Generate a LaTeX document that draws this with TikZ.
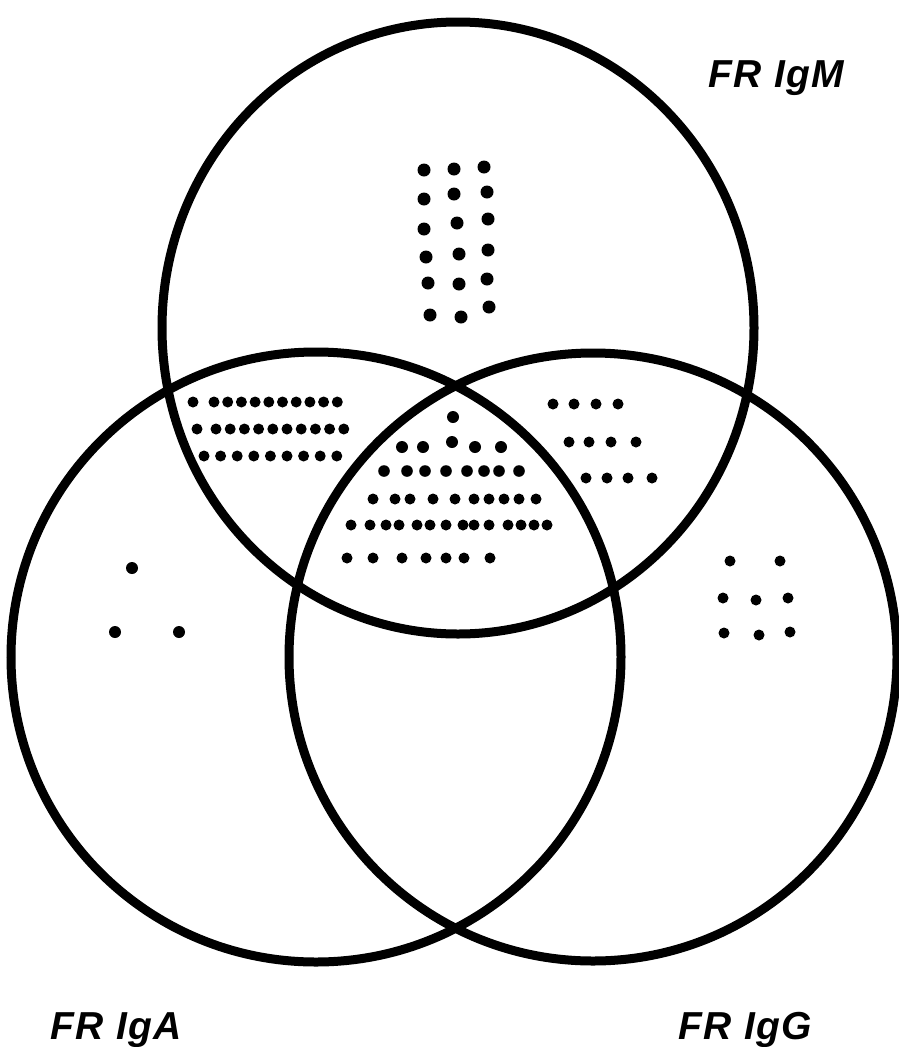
\documentclass[tikz,border=0pt]{standalone}
\usepackage{fontspec}
\setmainfont{Liberation Sans}
\begin{document}
\begin{tikzpicture}[x=1pt,y=-1pt,
  ring/.style={line width=9pt},
  lbl/.style={font=\fontsize{39}{39}\selectfont\addfontfeatures{LetterSpace=4}\bfseries\itshape, inner sep=0pt}]
\useasboundingbox (0,0) rectangle (899,1047);
% circles
\draw[ring] (458,328) ellipse [x radius=296, y radius=306];
\draw[ring] (316,657) circle [radius=305];
\draw[ring] (593,657) circle [radius=304];
% top group (IgM only)
\foreach \p in {(424,170),(424,199),(424,229),(426,257),(428,283),(430,315),
                (454,169),(454,194),(457,223),(459,254),(459,284),(461,317),
                (484,167),(487,192),(488,219),(488,250),(487,279),(489,307)}
  \fill \p circle [radius=6.5];
% IgM & IgA
\fill (193,402) circle [radius=5.5];
\foreach \i in {0,...,9}
  \fill ({214+\i*13.7},402) circle [radius=5.5];
\fill (197,429) circle [radius=5.5];
\foreach \i in {0,...,9}
  \fill ({216+\i*14.2},429) circle [radius=5.5];
\foreach \i in {0,...,8}
  \fill ({204+\i*16.6},456) circle [radius=5.5];
% centre (all three)
\fill (453,417) circle [radius=6];
\foreach \p in {(402,447),(423,447),(452,442),(475,447),(501,447)}
  \fill \p circle [radius=6];
\foreach \x in {384,407,425,446,467,484,499,519}
  \fill (\x,471) circle [radius=5.8];
\foreach \x in {373,395,410,433,455,474,489,504,519,536}
  \fill (\x,499) circle [radius=5.5];
\foreach \x in {351,370,386,399,417,430,446,463,474,489,508,521,534,547}
  \fill (\x,525) circle [radius=5.5];
\foreach \x in {347,373,402,426,446,464,490}
  \fill (\x,558) circle [radius=5.5];
% IgM & IgG
\foreach \x in {553,574,596,618} \fill (\x,404) circle [radius=5.5];
\foreach \x in {569,589,611,636} \fill (\x,442) circle [radius=5.5];
\foreach \x in {586,607,628,652} \fill (\x,478) circle [radius=5.5];
% IgA only
\foreach \p in {(132,568),(115,632),(179,632)} \fill \p circle [radius=6];
% IgG only
\foreach \p in {(730,561),(780,561),(723,598),(756,600),(788,598),(724,633),(759,635),(790,632)}
  \fill \p circle [radius=5.5];
% labels
\node[lbl, anchor=base west] (m) at (708,87) {FR IgM};
\node[lbl, anchor=base west] (a) at (50,1039) {FR IgA};
\node[lbl, anchor=base west] (g) at (678,1039) {FR IgG};
\end{tikzpicture}
\end{document}
